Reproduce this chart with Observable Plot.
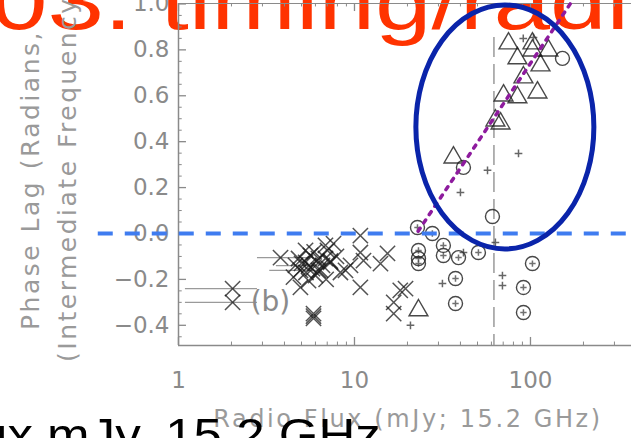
<!DOCTYPE html>
<html><head><meta charset="utf-8">
<script src="https://cdn.jsdelivr.net/npm/d3@7"></script>
<script src="https://cdn.jsdelivr.net/npm/@observablehq/plot@0.6"></script>
<style>
html,body{margin:0;padding:0;background:#fff;overflow:hidden;width:631px;height:438px;}
#chart{position:relative;width:631px;height:438px;overflow:hidden;}
#chart svg{display:block;overflow:visible;}
</style></head><body><div id="chart"></div>
<script>
// ---- data ----
const crossX = [2.03, 2.03, 3.80, 4.93, 5.27, 5.62, 5.77, 6.24, 6.58, 6.0, 4.93, 5.48, 5.85, 5.85, 7.02, 7.6, 8.32, 9.49, 8.89, 10.8, 10.8, 11.25, 10.8, 14.05, 15.4, 18.2, 16.7, 16.7, 19.5, 4.81, 6.84, 5.0, 5.5, 6.1, 5.3, 6.4, 7.3, 4.5, 6.9, 7.9, 5.9, 5.27, 6.24, 6.84, 4.62, 7.31, 5.85];
const crossY = [-0.24, -0.30, -0.105, -0.235, -0.126, -0.096, -0.153, -0.109, -0.139, -0.183, -0.161, -0.205, -0.349, -0.37, -0.074, -0.044, -0.170, -0.139, -0.161, -0.009, -0.083, -0.118, -0.235, -0.131, -0.087, -0.248, -0.30, -0.349, -0.24, -0.109, -0.052, -0.13, -0.14, -0.12, -0.17, -0.16, -0.12, -0.19, -0.20, -0.10, -0.08, -0.074, -0.161, -0.109, -0.139, -0.126, -0.36];
const errY  = [-0.24, -0.30, -0.105, -0.161, -0.14];
const errLo = [1.095, 1.095, 2.81, 3.3, 3.6];
const errHi = [2.81, 2.81, 5.62, 6.5, 6.0];
const circleX = [22.8, 27.7, 23.1, 23.1, 23.1, 32.0, 32.0, 39.0, 50.6, 37.5, 37.5, 60.8, 102.6, 91.2, 91.2, 41.6, 152];
const circleY = [0.026, 0.0, -0.074, -0.109, -0.131, -0.052, -0.096, -0.105, -0.083, -0.196, -0.305, 0.074, -0.131, -0.235, -0.344, 0.288, 0.763];
const triX = [75, 102.6, 84.3, 102.6, 114, 126.5, 91.2, 70.3, 84.3, 109.6, 67.6, 63.2, 36.5, 23.1];
const triY = [0.828, 0.828, 0.763, 0.797, 0.732, 0.797, 0.68, 0.601, 0.593, 0.614, 0.479, 0.492, 0.331, -0.335];
const plusX = [31.6, 69.3, 69.3, 63.2, 41.6, 20.8, 85.5, 57, 40, 91, 104];
const plusY = [-0.218, -0.183, -0.227, -0.039, -0.083, -0.40, 0.349, 0.275, 0.179, 0.85, 0.854];
const trendX = [23, 175];
const trendY = [0.01, 1.02];
const refLineX = 62;
const ellipseCenter = [72, 0.462];
const xTickValues = [1, 10, 100];
const xTickLabels = ["1", "10", "100"];
const xMinorTicks = [2, 3, 4, 5, 6, 7, 8, 9, 20, 30, 40, 50, 60, 70, 80, 90, 200, 300];
const yTickValues = [1.0, 0.8, 0.6, 0.4, 0.2, 0.0, -0.2, -0.4];
const yTickLabels = ["1.0", "0.8", "0.6", "0.4", "0.2", "0.0", "−0.2", "−0.4"];
const yMinorTicks = [-0.45, -0.35, -0.3, -0.25, -0.15, -0.1, -0.05, 0.05, 0.1, 0.15, 0.25, 0.3, 0.35, 0.45, 0.5, 0.55, 0.65, 0.7, 0.75, 0.85, 0.9, 0.95];
const titleText = "03. timing/radio";
const bottomText = "ux mJy, 15.2 GHz";
const xLabel = "Radio Flux (mJy; 15.2 GHz)";
const yLabel1 = "Phase Lag (Radians,";
const yLabel2 = "(Intermediate Frequency)";
const panelLabel = "(b)";

const X_MIN = 1, X_MAX = 375, Y_MIN = -0.488, Y_MAX = 1.002;
const AX = "#8a8a8a";

const pts = (xs, ys) => xs.map((x, i) => ({x, y: ys[i]}));
const crosses = pts(crossX, crossY);
const circles = pts(circleX, circleY);
const tris = pts(triX, triY);
const pluses = pts(plusX, plusY);
const errs = errY.map((y, i) => ({y, x1: errLo[i], x2: errHi[i]}));

const plot = Plot.plot({
  width: 631, height: 438,
  marginLeft: 178, marginRight: 0, marginTop: 3, marginBottom: 93,
  x: {type: "log", domain: [X_MIN, X_MAX], axis: null},
  y: {domain: [Y_MIN, Y_MAX], axis: null},
  style: {fontFamily: "DejaVu Sans", background: "transparent", overflow: "visible"},
  marks: [
    Plot.ruleX([X_MIN], {stroke: AX, strokeWidth: 1.5}),
    Plot.ruleY([Y_MIN], {stroke: AX, strokeWidth: 1.5}),
    Plot.ruleY([Y_MAX], {stroke: AX, strokeWidth: 1.2}),
    Plot.ruleX(xMinorTicks, {y1: Y_MIN, y2: Y_MIN + 0.015, stroke: AX}),
    Plot.ruleX(xTickValues, {y1: Y_MIN, y2: Y_MIN + 0.035, stroke: AX, strokeWidth: 1.3}),
    Plot.ruleX(xMinorTicks, {y1: Y_MAX, y2: Y_MAX - 0.015, stroke: AX}),
    Plot.ruleX(xTickValues, {y1: Y_MAX, y2: Y_MAX - 0.035, stroke: AX, strokeWidth: 1.3}),
    Plot.ruleY(yTickValues, {x1: X_MIN, x2: 1.11, stroke: AX, strokeWidth: 1.3}),
    Plot.ruleY(yMinorTicks, {x1: X_MIN, x2: 1.05, stroke: AX}),
    Plot.text(xTickValues, {x: d => d, y: Y_MIN, text: (d, i) => xTickLabels[i], dy: 35, fontSize: 23, fill: AX, ariaLabel: "xticklab"}),
    Plot.text(yTickValues, {x: X_MIN, y: d => d, text: (d, i) => yTickLabels[i], dx: -9, textAnchor: "end", fontSize: 23, fill: AX, ariaLabel: "yticklab"}),
    Plot.ruleX([refLineX], {y1: 0.854, y2: Y_MIN, stroke: "#9a9a9a", strokeWidth: 1.5, strokeDasharray: "20,7"}),
    Plot.ruleY(errs, {y: "y", x1: "x1", x2: "x2", stroke: "#9a9a9a", strokeWidth: 1.2}),
    Plot.dot(crosses, {x: "x", y: "y", symbol: "times", r: 7, stroke: "#1a1a1a", strokeOpacity: 0.75, strokeWidth: 1.5}),
    Plot.dot(circles, {x: "x", y: "y", symbol: "circle", r: 7, fill: "none", stroke: "#1a1a1a", strokeOpacity: 0.8, strokeWidth: 1.4}),
    Plot.dot(circles.filter(d => d.y < 0.05), {x: "x", y: "y", symbol: "plus", r: 2.2, stroke: "#333", strokeOpacity: 0.7}),
    Plot.dot(tris, {x: "x", y: "y", symbol: "triangle", r: 7, fill: "none", stroke: "#1a1a1a", strokeOpacity: 0.8, strokeWidth: 1.4}),
    Plot.dot(pluses, {x: "x", y: "y", symbol: "plus", r: 2.6, stroke: "#333", strokeOpacity: 0.75}),
    Plot.text([panelLabel], {x: 2.57, y: -0.30, text: d => d, textAnchor: "start", fontSize: 28, fill: AX}),
    Plot.ruleY([0], {x1: 0.35, x2: 420, stroke: "#3f7cf0", strokeWidth: 4, strokeDasharray: "15,12"}),
    Plot.line(pts(trendX, trendY), {x: "x", y: "y", stroke: "#8e1b9e", strokeWidth: 3.5, strokeDasharray: "3.5,6.5"})
  ]
});

document.getElementById("chart").appendChild(plot);
const svg = d3.select(plot);
svg.selectAll('g[aria-label="xticklab"] text, g[aria-label="yticklab"] text').style("letter-spacing", "2px");

const sx = plot.scale("x"), sy = plot.scale("y");

// big slide title (under the plot marks)
svg.insert("text", ":first-child")
  .attr("transform", "translate(-9,29) scale(1.27,1)")
  .attr("text-anchor", "start")
  .attr("font-family", "Liberation Sans, Arial, sans-serif")
  .attr("font-size", 80)
  .attr("fill", "#ff3300")
  .text(titleText);

// y axis labels
svg.append("text")
  .attr("transform", "translate(30,330) rotate(-90)")
  .attr("text-anchor", "start")
  .attr("font-family", "DejaVu Sans").attr("font-size", 25)
  .attr("dominant-baseline", "central")
  .style("letter-spacing", "2.5px")
  .attr("fill", "#9a9a9a").text(yLabel1);
svg.append("text")
  .attr("transform", "translate(67,362) rotate(-90)")
  .attr("text-anchor", "start")
  .attr("font-family", "DejaVu Sans").attr("font-size", 25)
  .attr("dominant-baseline", "central")
  .style("letter-spacing", "2.5px")
  .attr("fill", "#9a9a9a").text(yLabel2);

// x axis label
svg.append("text")
  .attr("x", 408).attr("y", 427)
  .attr("text-anchor", "middle")
  .attr("font-family", "DejaVu Sans").attr("font-size", 24)
  .style("letter-spacing", "2.6px")
  .attr("fill", "#9a9a9a").text(xLabel);

// annotation ellipse
svg.append("ellipse")
  .attr("cx", sx.apply(ellipseCenter[0]))
  .attr("cy", sy.apply(ellipseCenter[1]))
  .attr("rx", 89).attr("ry", 122)
  .attr("fill", "none").attr("stroke", "#0a24aa").attr("stroke-width", 5);

// bottom slide text
svg.append("text")
  .attr("transform", "translate(-21,451) scale(1.11,1)")
  .attr("text-anchor", "start")
  .attr("font-family", "Liberation Sans, Arial, sans-serif")
  .attr("font-size", 46)
  .attr("fill", "#000")
  .text(bottomText);
</script></body></html>
